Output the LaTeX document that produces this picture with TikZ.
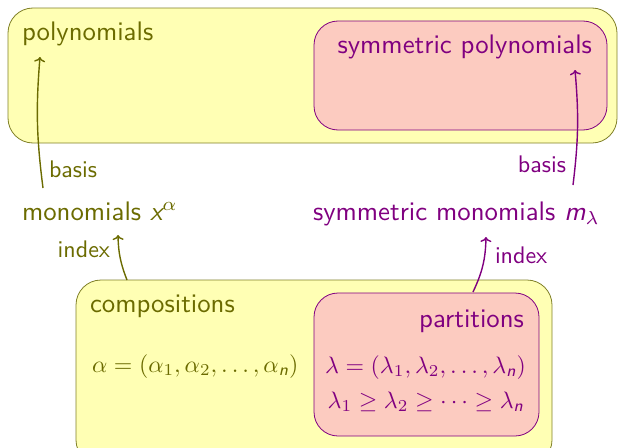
\documentclass[tikz,border=0pt]{standalone}
\usepackage{amsmath}
\usetikzlibrary{arrows.meta}
\definecolor{olivetxt}{RGB}{107,107,0}
\definecolor{olivebd}{RGB}{128,128,40}
\definecolor{yellowfill}{RGB}{255,255,180}
\definecolor{pinkfill}{RGB}{252,203,192}
\definecolor{purp}{RGB}{128,0,128}
\newcommand{\sn}{\text{\sffamily\itshape n}}
\begin{document}
\begin{tikzpicture}[x=1pt,y=-1pt,
  every node/.style={inner sep=0pt,outer sep=0pt,font=\sffamily\fontsize{10}{12}\selectfont},
  txt/.style={scale=2.68},
  lbl/.style={scale=2.4},
  mth/.style={scale=2.38},
  ybox/.style={draw=olivebd,fill=yellowfill,line width=0.8pt,rounded corners=25pt},
  pbox/.style={draw=purp,fill=pinkfill,line width=0.8pt,rounded corners=24pt},
  oarr/.style={-{To[length=5pt,width=11pt]},draw=olivetxt,line width=1.4pt},
  parr/.style={-{To[length=5pt,width=11pt]},draw=purp,line width=1.4pt}]
\useasboundingbox (0,0) rectangle (618,447);
\clip (0,0) rectangle (618,447);
% boxes
\draw[ybox] (8,8) rectangle (617,143);
\draw[pbox] (314,21) rectangle (607,130);
\draw[ybox] (76,280) rectangle (552,465);
\draw[pbox] (314,293) rectangle (539,436);
% texts
\node[txt,anchor=base west,text=olivetxt] (poly) at (22,40) {polynomials};
\node[txt,anchor=base east,text=purp] (sympoly) at (592,53) {symmetric polynomials};
\node[txt,anchor=base west,text=olivetxt] (mono) at (22,220) {monomials $\text{\sffamily\itshape x}^{\alpha}$};
\node[txt,anchor=base west,text=purp] (symmono) at (313,220) {symmetric monomials $\text{\sffamily\itshape m}_{\lambda}$};
\node[txt,anchor=base west,text=olivetxt] (comp) at (90,312) {compositions};
\node[mth,anchor=base west,text=olivetxt] (alpha) at (92,372) {$\alpha=(\alpha_1,\alpha_2,\ldots,\alpha_{\sn})$};
\node[txt,anchor=base east,text=purp] (part) at (524,327) {partitions};
\node[mth,anchor=base east,text=purp] (lam1) at (526,373) {$\lambda=(\lambda_1,\lambda_2,\ldots,\lambda_{\sn})$};
\node[mth,anchor=base east,text=purp] (lam2) at (524,408) {$\lambda_1\geq\lambda_2\geq\cdots\geq\lambda_{\sn}$};
% anchor coordinates for arrows
\coordinate (b1s) at (43,188);
\coordinate (b1e) at (40,57);
\coordinate (b2s) at (573,185);
\coordinate (b2e) at (575,70);
\coordinate (i1s) at (127,280);
\coordinate (i1e) at (118,235);
\coordinate (i2s) at (473,292);
\coordinate (i2e) at (486,237);
\draw[oarr] (b1s) to[bend left=6] (b1e);
\draw[parr] (b2s) to[bend right=6] (b2e);
\draw[oarr] (i1s) to[bend left=10] (i1e);
\draw[parr] (i2s) to[bend right=12] (i2e);
% labels
\node[lbl,anchor=base west,text=olivetxt] (lb1) at (49,177) {basis};
\node[lbl,anchor=base east,text=purp] (lb2) at (566,172) {basis};
\node[lbl,anchor=base east,text=olivetxt] (li1) at (110,257) {index};
\node[lbl,anchor=base west,text=purp] (li2) at (495,263) {index};
\end{tikzpicture}
\end{document}
